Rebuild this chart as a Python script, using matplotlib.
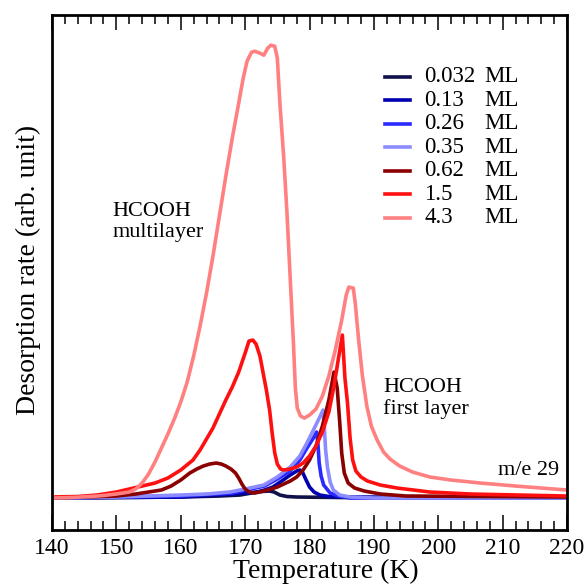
import matplotlib
matplotlib.use("Agg")
import matplotlib.pyplot as plt
from matplotlib.ticker import MultipleLocator

plt.rcParams['font.family'] = ['Liberation Serif', 'DejaVu Serif']

# ---- data (temperature K, desorption rate arb. units) ----
T_4p3 = [140, 143, 146, 148, 150, 151, 152, 153, 154, 155, 156, 157, 158, 159, 160, 161, 162,
         163, 164, 165, 166, 167, 168, 169, 169.7, 170.3, 171, 171.5, 172.3, 172.9, 173.5, 174,
         174.6, 175, 175.4, 176, 176.5, 177, 177.5, 177.8, 178.1, 178.6, 179.2, 180, 181, 182,
         183, 184, 185, 185.7, 186.1, 186.8, 187.1, 187.6, 188.2, 188.9, 189.6, 190.5, 191.5,
         192.5, 194, 196, 198.7, 202, 206.5, 212, 220]
Y_4p3 = [0, 0.5, 1.5, 2.5, 4, 5, 6, 9, 15, 24, 36, 50, 64, 79, 96, 116, 142,
         172, 205, 242, 282, 322, 360, 395, 420, 437, 446, 447, 445, 443, 450, 453,
         452, 440, 395, 340, 285, 220, 155, 110, 90, 82, 80, 83, 89, 102,
         122, 148, 178, 203, 211, 210, 195, 160, 123, 92, 72, 58, 46,
         39, 32, 26, 21, 18, 15, 12, 8]

T_1p5 = [140, 144, 147, 150, 152, 154, 156, 158, 160, 161.9, 163, 164, 165, 166, 167, 168, 169,
         170, 170.6, 171.2, 171.7, 172.3, 172.8, 173.3, 173.8, 174.2, 174.6, 175, 175.5, 176,
         177, 178, 179, 180, 181, 182, 183, 183.8, 184.5, 185.1, 185.5, 185.9, 186.3, 186.7,
         187.2, 188, 189, 191, 193.6, 198.7, 205, 220]
Y_1p5 = [1, 1.5, 3, 6, 9, 12, 15, 20, 28, 38, 48, 59, 70, 84, 98, 111, 126,
         145, 157, 158, 154, 142, 125, 108, 88, 65, 45, 34, 29, 28,
         29, 31, 35, 42, 52, 66, 86, 112, 140, 163, 120, 95, 60, 38,
         27, 21, 17, 13, 10, 6, 4, 2]

T_0p62 = [140, 145, 150, 153, 155, 157, 158.5, 160, 161.4, 162.5, 163.5, 164.5, 165.5, 166.3,
          167, 167.8, 168.5, 169, 169.5, 170, 170.6, 171.5, 172.9, 174, 175, 176, 177, 178,
          179, 180, 181, 182, 183, 183.8, 184.3, 184.7, 185, 185.4, 186, 187, 188.5, 191, 195, 220]
Y_0p62 = [0, 1, 2, 4, 6, 8, 12, 18, 25, 29, 32, 34, 35, 34,
          32, 29, 25, 20, 14, 9, 6, 5, 7, 9, 11, 14, 17, 21,
          28, 38, 52, 72, 98, 126, 110, 75, 45, 25, 15, 10, 7, 4, 2, 1]

T_0p35 = [140, 150, 160, 164, 167.6, 170, 172.9, 175, 177, 178.5, 179.6, 180.6, 181.6, 182.1,
          182.3, 182.5, 182.8, 183.2, 183.7, 184.7, 186.3, 190, 220]
Y_0p35 = [0, 1, 3, 4, 6, 9, 13, 21, 31, 42, 55, 68, 81, 88,
          70, 48, 30, 16, 8, 3, 1, 0, 0]

T_0p26 = [140, 150, 160, 168, 173, 175, 177, 178.5, 179.6, 180.6, 181.1, 181.3, 181.5, 181.8,
          182.2, 183.2, 184.5, 186.3, 220]
Y_0p26 = [0, 1, 2, 5, 12, 19, 27, 38, 50, 60, 66, 55, 35, 22,
          13, 5, 2, 0, 0]

T_0p13 = [140, 160, 165, 168, 171.8, 173, 174.3, 175.9, 177, 178, 178.5, 178.9, 179.4, 180,
          180.7, 181.6, 183, 186, 220]
Y_0p13 = [0, 1, 3, 4, 6, 8, 11, 18, 23, 27, 28, 26, 19, 11,
          6, 3, 1.5, 1, 0]

T_0p032 = [140, 160, 166, 169.2, 171, 172.5, 173.8, 174.5, 175.4, 176.5, 178, 185, 220]
Y_0p032 = [0, 1, 2, 3, 5, 6.5, 7, 6, 3, 1.5, 1, 0.5, 0]

coverages = ["0.032", "0.13", "0.26", "0.35", "0.62", "1.5", "4.3"]
colors = ["#10104a", "#0000b0", "#2a2aff", "#8c8cff", "#8b0000", "#ff1010", "#ff8080"]
series = [(T_0p032, Y_0p032), (T_0p13, Y_0p13), (T_0p26, Y_0p26), (T_0p35, Y_0p35),
          (T_0p62, Y_0p62), (T_1p5, Y_1p5), (T_4p3, Y_4p3)]

fig = plt.figure(figsize=(5.84, 5.85), dpi=100)
ax = fig.add_axes([0.089, 0.094, 0.882, 0.880])

for (t, y), c in zip(series, colors):
    ax.plot(t, y, color=c, lw=2.6, solid_joinstyle='round', solid_capstyle='round')

ax.set_xlim(140, 220)
ax.set_ylim(-32, 483)

ax.xaxis.set_major_locator(MultipleLocator(10))
ax.xaxis.set_minor_locator(MultipleLocator(2))
ax.tick_params(axis='x', which='major', direction='in', top=True, length=11, width=1.1,
               labelsize=17, pad=6)
ax.tick_params(axis='x', which='minor', direction='in', top=True, length=6.5, width=1.1)
ax.set_yticks([])
for s in ax.spines.values():
    s.set_linewidth(2)

ax.set_xlabel("Temperature (K)", fontsize=20)
ax.set_ylabel("Desorption rate (arb. unit)", fontsize=20)
ax.xaxis.set_label_coords(0.532, -0.056)
ax.yaxis.set_label_coords(-0.022, 0.505)

# annotations
ax.text(0.117, 0.598, "HCOOH\nmultilayer", transform=ax.transAxes, fontsize=16,
        ha='left', va='center', linespacing=1.15)
ax.text(0.643, 0.255, "HCOOH\nfirst layer", transform=ax.transAxes, fontsize=16,
        ha='left', va='center', linespacing=1.15)
ax.text(0.985, 0.115, "m/e 29", transform=ax.transAxes, fontsize=16,
        ha='right', va='center')

# legend (manual, with aligned "ML")
y0 = 0.880
dy = 0.0455
for i, (cov, c) in enumerate(zip(coverages, colors)):
    yy = y0 - i * dy
    ax.plot([0.646, 0.695], [yy, yy], transform=ax.transAxes, color=c, lw=2.6)
    ax.text(0.723, yy, cov, transform=ax.transAxes, fontsize=16.5, ha='left', va='center')
    ax.text(0.840, yy, "ML", transform=ax.transAxes, fontsize=16.5, ha='left', va='center')

fig.savefig("out.png", dpi=100)
